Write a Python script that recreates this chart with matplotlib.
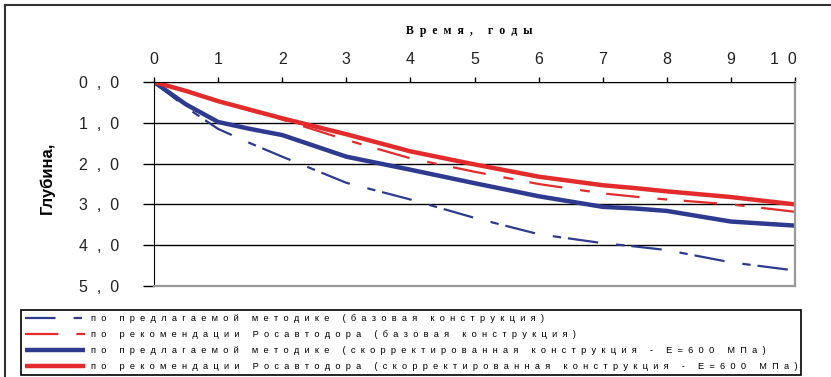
import matplotlib
matplotlib.use("Agg")
import matplotlib.pyplot as plt
from matplotlib.lines import Line2D
from matplotlib.transforms import ScaledTranslation

# Years since construction (common x for every series)
years = [0, 0.5, 1, 1.5, 2, 3, 4, 5, 6, 7, 7.5, 8, 9, 10]

# Depth, m
depth_method_base = [0, 0.62, 1.15, 1.5, 1.83, 2.47, 2.88, 3.33, 3.73, 3.95, 4.03, 4.12, 4.42, 4.62]
depth_rosavtodor_base = [0, 0.22, 0.45, 0.7, 0.92, 1.42, 1.87, 2.2, 2.5, 2.73, 2.81, 2.88, 3.0, 3.18]
depth_method_corr = [0, 0.55, 0.98, 1.15, 1.3, 1.83, 2.15, 2.48, 2.8, 3.06, 3.1, 3.16, 3.42, 3.52]
depth_rosavtodor_corr = [0, 0.22, 0.47, 0.68, 0.89, 1.28, 1.7, 2.02, 2.32, 2.53, 2.6, 2.68, 2.82, 3.0]

labels = [
    "по предлагаемой методике (базовая конструкция)",
    "по рекомендации Росавтодора (базовая конструкция)",
    "по предлагаемой методике (скорректированная конструкция - Е=600 МПа)",
    "по рекомендации Росавтодора (скорректированная конструкция - Е=600 МПа)",
]
x_ticks = list(range(11))
y_ticks = [0, 1, 2, 3, 4, 5]
x_title = "Время, годы"
y_title = "Глубина,"

BLUE = "#2e3a8f"
RED = "#e32b2b"


def spaced(s, gap="  "):
    # old Excel export look: letters spread apart
    return gap.join(s)


plt.rcParams["font.family"] = ["Liberation Sans", "DejaVu Sans"]
plt.rcParams["lines.scale_dashes"] = False

W, H = 831, 377
fig = plt.figure(figsize=(W / 100, H / 100), dpi=100)
ax = fig.add_axes([154 / W, 1 - 286 / H, (795 - 154) / W, (286 - 82) / H])

l1, = ax.plot(years, depth_method_base, color=BLUE, lw=1.6, dashes=(22, 13, 6, 5))
l2, = ax.plot(years, depth_rosavtodor_base, color=RED, lw=1.6, dashes=(24, 13, 7, 12))
l3, = ax.plot(years, depth_method_corr, color=BLUE, lw=3.2, solid_capstyle="butt")
l4, = ax.plot(years, depth_rosavtodor_corr, color=RED, lw=3.2, solid_capstyle="butt")

ax.set_xlim(0, 10)
ax.set_ylim(5, 0)
ax.xaxis.tick_top()
ax.set_xticks(x_ticks)
ax.set_xticklabels([spaced(str(t)) for t in x_ticks])
ax.set_yticks(y_ticks)
ax.set_yticklabels([spaced(f"{v:.1f}".replace(".", ",")) for v in y_ticks])
ax.tick_params(axis="x", direction="out", length=3.5, width=1, pad=7,
               labelsize=11.5, labelcolor="#222222")
ax.tick_params(axis="y", direction="out", length=8, width=1, pad=17,
               labelsize=11.5, labelcolor="#222222")
# the two-digit label sits a bit left of its tick in the original
last = ax.get_xticklabels()[-1]
last.set_transform(last.get_transform() + ScaledTranslation(-0.12, 0, fig.dpi_scale_trans))

ax.grid(axis="y", color="black", lw=1)
ax.set_axisbelow(True)
ax.spines["left"].set_color("black")
ax.spines["top"].set_color("black")
ax.spines["right"].set_color("#999999")
ax.spines["bottom"].set_color("#999999")
ax.spines["right"].set_linewidth(1.6)
ax.spines["bottom"].set_linewidth(1.6)

fig.text(469 / W, 1 - 31 / H, spaced(x_title), family="Liberation Serif",
         weight="bold", fontsize=8.5, ha="center", va="center")
fig.text(47 / W, 1 - 178 / H, y_title, weight="bold", fontsize=12,
         rotation=90, ha="center", va="center")

# outer frame (only left and top edges visible)
fig.add_artist(Line2D([5 / W, 5 / W], [0, 1 - 5 / H], color="#333333", lw=1.5))
fig.add_artist(Line2D([5 / W, 1], [1 - 5 / H, 1 - 5 / H], color="#333333", lw=1.5))

leg = fig.legend([l1, l2, l3, l4], [spaced(s) for s in labels],
                 loc="lower left", bbox_to_anchor=(21 / W, 2 / H, 780 / W, 66 / H),
                 mode="expand", fontsize=6.7, handlelength=6.4, handletextpad=0.7,
                 labelspacing=0.74, borderpad=0.45, borderaxespad=0,
                 fancybox=False, framealpha=1)
leg.get_frame().set_edgecolor("black")
leg.get_frame().set_linewidth(1.2)

fig.savefig("out.png", dpi=100)
